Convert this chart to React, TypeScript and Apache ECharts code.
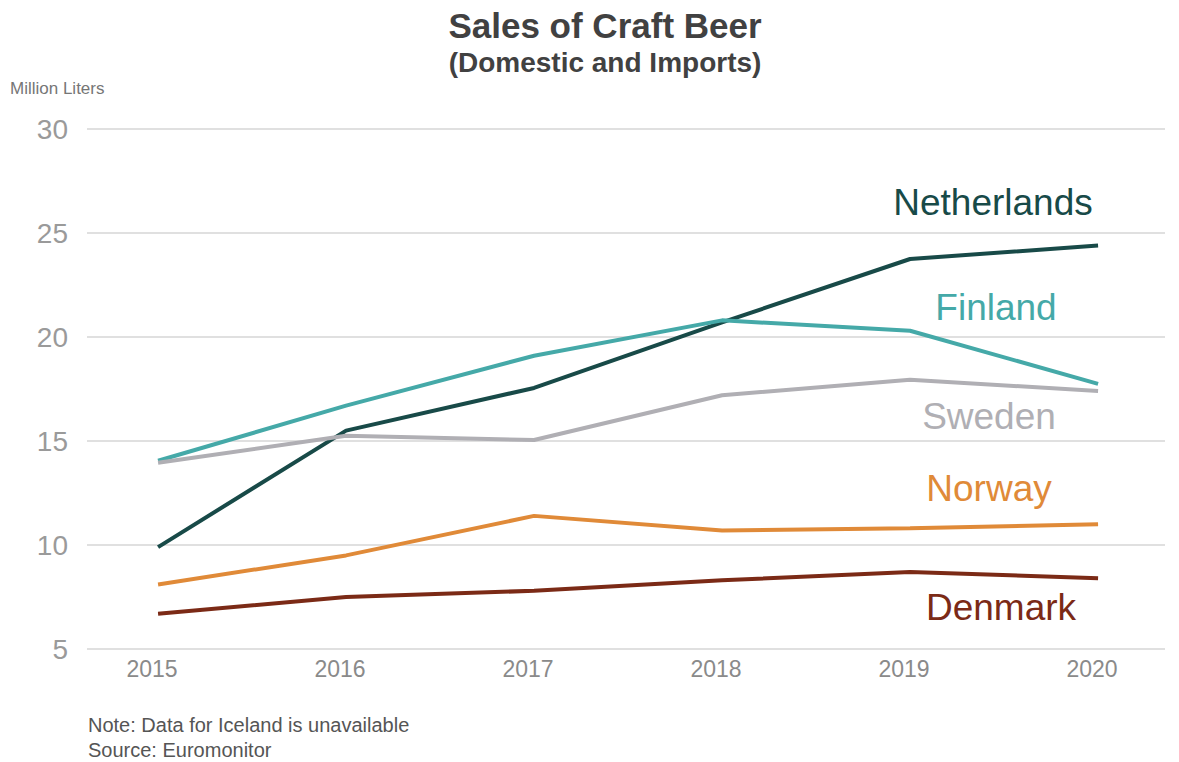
import React, { useEffect, useRef } from "react";
import * as echarts from "echarts";

const years = [2015, 2016, 2017, 2018, 2019, 2020];
const netherlands = [9.9, 15.5, 17.55, 20.7, 23.75, 24.4];
const finland = [14.05, 16.7, 19.1, 20.8, 20.3, 17.75];
const sweden = [13.95, 15.25, 15.05, 17.2, 17.95, 17.4];
const norway = [8.1, 9.5, 11.4, 10.7, 10.8, 11.0];
const denmark = [6.7, 7.5, 7.8, 8.3, 8.7, 8.4];

const seriesDefs = [
  { name: "Netherlands", data: netherlands, color: "#184a48", labelX: 993, labelY: 202 },
  { name: "Finland", data: finland, color: "#45a9a8", labelX: 996, labelY: 307 },
  { name: "Sweden", data: sweden, color: "#b0afb4", labelX: 989, labelY: 416 },
  { name: "Norway", data: norway, color: "#e08a38", labelX: 989, labelY: 488 },
  { name: "Denmark", data: denmark, color: "#7b2a16", labelX: 1001, labelY: 607 },
];

const FONT = "'Liberation Sans', Arial, Helvetica, sans-serif";

export default function App() {
  const ref = useRef<HTMLDivElement>(null);
  useEffect(() => {
    if (!ref.current) return;
    const chart = echarts.init(ref.current, undefined, { renderer: "svg" });
    chart.setOption({
      animation: false,
      backgroundColor: "#ffffff",
      textStyle: { fontFamily: FONT },
      grid: { left: 87, right: 14, top: 129, bottom: 113, containLabel: false },
      xAxis: {
        type: "value",
        min: 2014.622,
        max: 2020.356,
        axisLine: { show: false },
        axisTick: { show: false },
        splitLine: { show: false },
        axisLabel: {
          customValues: years.map((y) => y - 0.032),
          color: "#8a8a8a",
          fontSize: 23,
          fontFamily: FONT,
          margin: 8,
          formatter: (v: number) => String(Math.round(v)),
        },
      },
      yAxis: {
        type: "value",
        min: 5,
        max: 30,
        interval: 5,
        axisLine: { show: false },
        axisTick: { show: false },
        axisLabel: { color: "#9a9a9a", fontSize: 28, fontFamily: FONT, margin: 19 },
        splitLine: { lineStyle: { color: "#d6d6d6", width: 1.5 } },
      },
      series: seriesDefs.map((s) => ({
        name: s.name,
        type: "line",
        data: years.map((y, i) => [y, s.data[i]]),
        showSymbol: false,
        lineStyle: { color: s.color, width: 4 },
        itemStyle: { color: s.color },
        z: 3,
      })),
      graphic: [
        {
          type: "text",
          x: 605,
          y: 25,
          style: {
            text: "Sales of Craft Beer",
            font: `bold 35px ${FONT}`,
            fill: "#414141",
            textAlign: "center",
            textVerticalAlign: "middle",
          },
        },
        {
          type: "text",
          x: 605,
          y: 62,
          style: {
            text: "(Domestic and Imports)",
            font: `bold 28px ${FONT}`,
            fill: "#414141",
            textAlign: "center",
            textVerticalAlign: "middle",
          },
        },
        {
          type: "text",
          x: 10,
          y: 88,
          style: {
            text: "Million Liters",
            font: `17px ${FONT}`,
            fill: "#767676",
            textVerticalAlign: "middle",
          },
        },
        {
          type: "text",
          x: 88,
          y: 725,
          style: {
            text: "Note: Data for Iceland is unavailable",
            font: `20px ${FONT}`,
            fill: "#555555",
            textVerticalAlign: "middle",
          },
        },
        {
          type: "text",
          x: 88,
          y: 750,
          style: {
            text: "Source: Euromonitor",
            font: `20px ${FONT}`,
            fill: "#555555",
            textVerticalAlign: "middle",
          },
        },
        ...seriesDefs.map((s) => ({
          type: "text",
          x: s.labelX,
          y: s.labelY,
          style: {
            text: s.name,
            font: `37px ${FONT}`,
            fill: s.color,
            textAlign: "center",
            textVerticalAlign: "middle",
          },
        })),
      ],
    });
    return () => chart.dispose();
  }, []);
  return <div ref={ref} style={{ width: 1179, height: 762, position: "absolute", left: 0, top: 0 }} />;
}
